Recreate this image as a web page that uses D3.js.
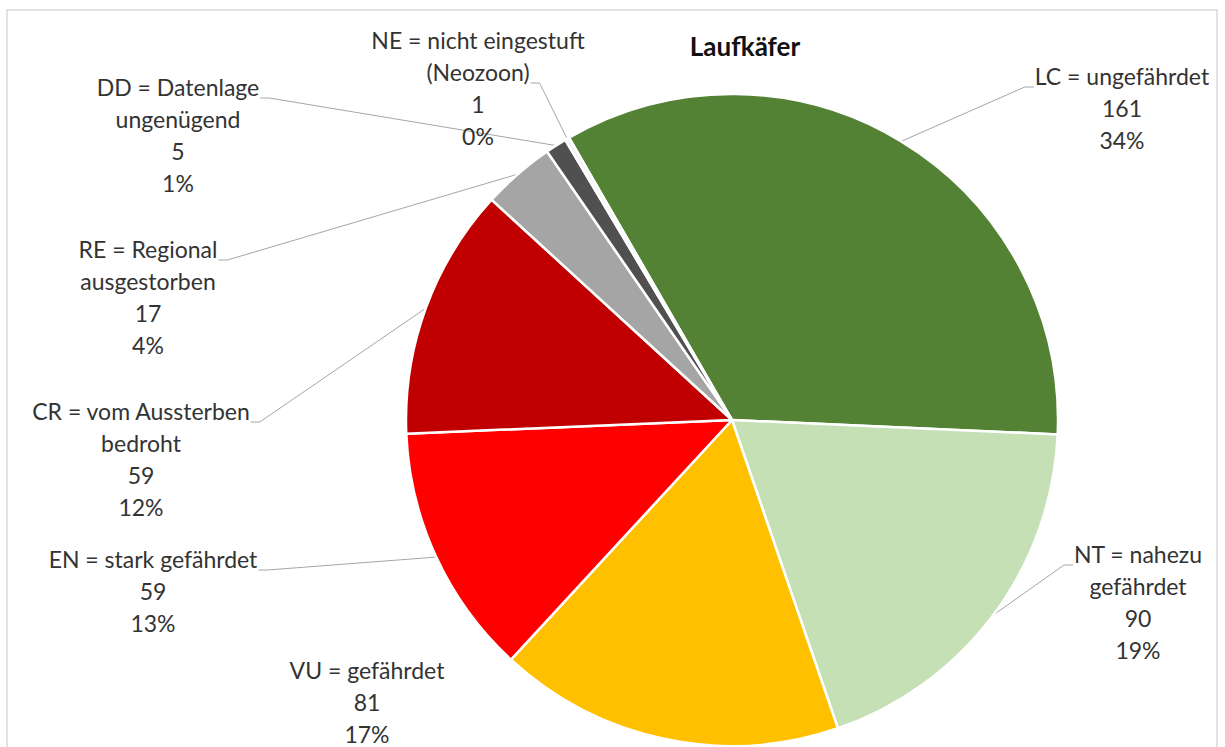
<!DOCTYPE html>
<html>
<head>
<meta charset="utf-8">
<script src="https://cdn.jsdelivr.net/npm/d3@7"></script>
<style>
  html, body { margin: 0; padding: 0; background: #ffffff; }
  svg { display: block; }
  text { font-family: Lato, "Open Sans", sans-serif; }
</style>
</head>
<body>
<svg id="chart" width="1225" height="747"></svg>
<script>
// Red List categories of ground beetles (Laufkäfer), species counts
const categories = ["LC", "NT", "VU", "EN", "CR", "RE", "DD", "NE"];
const labelNames = [
  ["LC = ungefährdet"],
  ["NT = nahezu", "gefährdet"],
  ["VU = gefährdet"],
  ["EN = stark gefährdet"],
  ["CR = vom Aussterben", "bedroht"],
  ["RE = Regional", "ausgestorben"],
  ["DD = Datenlage", "ungenügend"],
  ["NE = nicht eingestuft", "(Neozoon)"]
];
const counts = [161, 90, 81, 59, 59, 17, 5, 1];
const percentLabels = ["34%", "19%", "17%", "13%", "12%", "4%", "1%", "0%"];
const colors = ["#548235", "#C5E0B4", "#FFC000", "#FF0000", "#C00000", "#A5A5A5", "#505050", "#F2F2F2"];

// Label block placement: centre x, first baseline y, leader attach line and side
const labelLayout = {
  LC: { x: 1122, y: 85,  line: 0, side: "left" },
  NT: { x: 1138, y: 563, line: 0, side: "left" },
  VU: { x: 367,  y: 679, line: null },
  EN: { x: 153,  y: 568, line: 0, side: "right" },
  CR: { x: 141,  y: 420, line: 0, side: "right" },
  RE: { x: 148,  y: 258, line: 0, side: "right" },
  DD: { x: 178,  y: 96,  line: 0, side: "right" },
  NE: { x: 478,  y: 49,  line: 1, side: "right" }
};

const svg = d3.select("#chart");
const W = 1225, H = 747;
const cx = 732, cy = 420, R = 326;
const lineH = 32;

// chart frame
svg.append("path")
  .attr("d", `M7,${H + 2}V10H1217V${H + 2}`)
  .attr("fill", "none")
  .attr("stroke", "#d9d9d9")
  .attr("stroke-width", 1.5);

// title
svg.append("text")
  .attr("x", 745).attr("y", 56)
  .attr("text-anchor", "middle")
  .attr("font-size", 26)
  .attr("font-weight", "bold")
  .attr("fill", "#111")
  .text("Laufkäfer");

const data = categories.map((c, i) => ({ key: c, value: counts[i], i }));

const pie = d3.pie()
  .value(d => d.value)
  .sort(null)
  .startAngle(-Math.PI / 6)
  .endAngle(2 * Math.PI - Math.PI / 6);

const arcs = pie(data);
const arc = d3.arc().innerRadius(0).outerRadius(R);

const g = svg.append("g").attr("transform", `translate(${cx},${cy})`);

g.selectAll("path.slice")
  .data(arcs)
  .join("path")
  .attr("class", "slice")
  .attr("d", arc)
  .attr("fill", d => colors[d.data.i])
  .attr("stroke", "#ffffff")
  .attr("stroke-width", 2.5)
  .attr("stroke-linejoin", "round");

// labels and leader lines
const labelsG = svg.append("g");
const leadersG = svg.insert("g", "g");

arcs.forEach(a => {
  const d = a.data;
  const lay = labelLayout[d.key];
  const lines = labelNames[d.i].concat([String(d.value), percentLabels[d.i]]);
  const t = labelsG.append("text")
    .attr("text-anchor", "middle")
    .attr("font-size", 23)
    .attr("fill", "#333333");
  const spans = lines.map((ln, k) =>
    t.append("tspan")
      .attr("x", lay.x)
      .attr("y", lay.y + k * lineH)
      .text(ln)
  );

  if (lay.line !== null) {
    const w = spans[lay.line].node().getComputedTextLength();
    const ly = lay.y + lay.line * lineH + 2;
    const mid = (a.startAngle + a.endAngle) / 2;
    const px = cx + R * Math.sin(mid);
    const py = cy - R * Math.cos(mid);
    let sx, hx;
    if (lay.side === "right") {
      sx = lay.x + w / 2 + 1; hx = sx + 9;
    } else {
      sx = lay.x - w / 2 - 1; hx = sx - 9;
    }
    leadersG.append("path")
      .attr("d", `M${sx},${ly}L${hx},${ly}L${px},${py}`)
      .attr("fill", "none")
      .attr("stroke", "#a6a6a6")
      .attr("stroke-width", 1);
  }
});
</script>
</body>
</html>
